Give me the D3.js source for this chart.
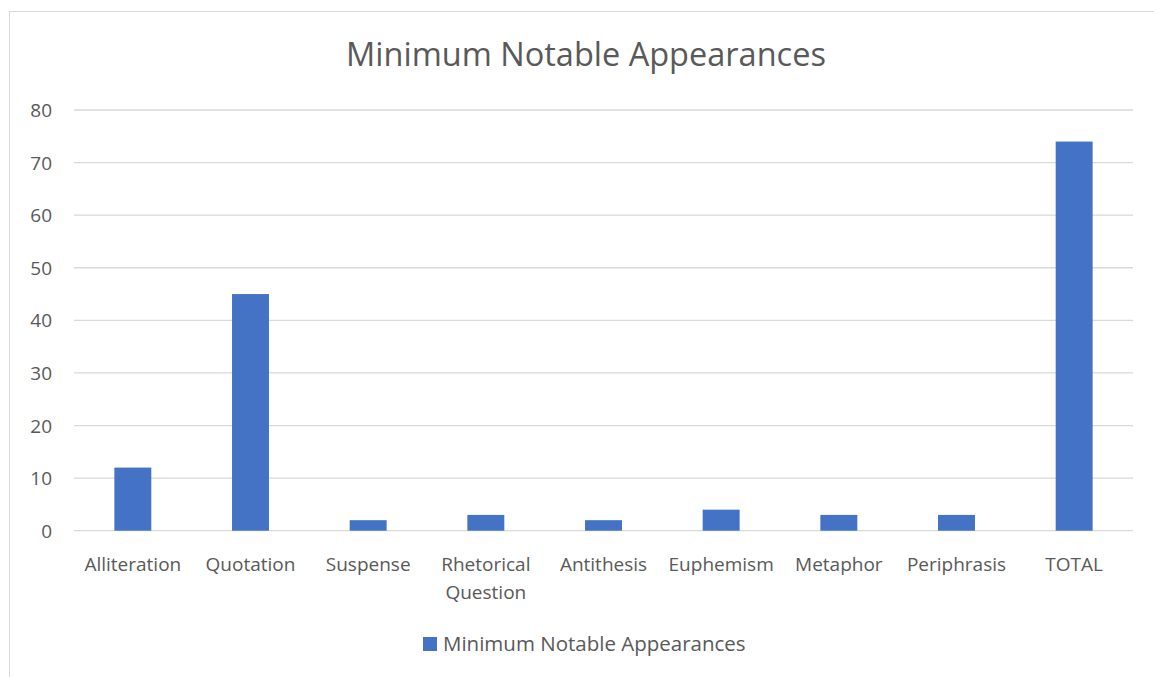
<!DOCTYPE html>
<html><head><meta charset="utf-8">
<script src="https://cdn.jsdelivr.net/npm/d3@7"></script>
<style>body{margin:0;background:#fff;} text{font-family:"Open Sans",Lato,sans-serif;}</style>
</head><body>
<svg id="c" width="1154" height="677"></svg>
<script>
const categories = [["Alliteration"],["Quotation"],["Suspense"],["Rhetorical","Question"],["Antithesis"],["Euphemism"],["Metaphor"],["Periphrasis"],["TOTAL"]];
const values = [12,45,2,3,2,4,3,3,74];
const yTicks = [0,10,20,30,40,50,60,70,80];
const title = "Minimum Notable Appearances";
const seriesName = "Minimum Notable Appearances";

const svg = d3.select("#c");
svg.append("rect").attr("x",9.5).attr("y",11.5).attr("width",1160).attr("height",700)
  .attr("fill","#fff").attr("stroke","#d9d9d9").attr("stroke-width",1);

const x = d3.scaleBand().domain(d3.range(categories.length)).range([74,1133]).padding(0);
const y = d3.scaleLinear().domain([0,80]).range([530.7,110]);

svg.append("g").selectAll("line").data(yTicks).join("line")
  .attr("x1",74).attr("x2",1133).attr("y1",d=>y(d)).attr("y2",d=>y(d))
  .attr("stroke","#d9d9d9").attr("stroke-width",1.3);

svg.append("g").selectAll("text").data(yTicks).join("text")
  .attr("x",52).attr("y",d=>y(d)+7).attr("text-anchor","end")
  .attr("font-size",19).attr("fill","#595959").text(d=>d);

const bw = x.bandwidth()*0.314;
svg.append("g").selectAll("rect").data(values).join("rect")
  .attr("x",(d,i)=>x(i)+x.bandwidth()/2-bw/2).attr("width",bw)
  .attr("y",d=>y(d)).attr("height",d=>y(0)-y(d)).attr("fill","#4472c4");

const lab = svg.append("g").selectAll("text").data(categories).join("text")
  .attr("x",(d,i)=>x(i)+x.bandwidth()/2).attr("y",570.5).attr("text-anchor","middle")
  .attr("font-size",19).attr("fill","#595959");
lab.selectAll("tspan").data(d=>d).join("tspan")
  .attr("x",function(){return d3.select(this.parentNode).attr("x");})
  .attr("dy",(d,i)=>i===0?0:28).text(d=>d);

svg.append("text").attr("x",586).attr("y",66).attr("text-anchor","middle")
  .attr("font-size",32.5).attr("fill","#595959").text(title);

svg.append("rect").attr("x",423).attr("y",637).attr("width",14).attr("height",14).attr("fill","#4472c4");
svg.append("text").attr("x",443).attr("y",651).attr("font-size",20.5).attr("fill","#595959").text(seriesName);
</script>
</body></html>
